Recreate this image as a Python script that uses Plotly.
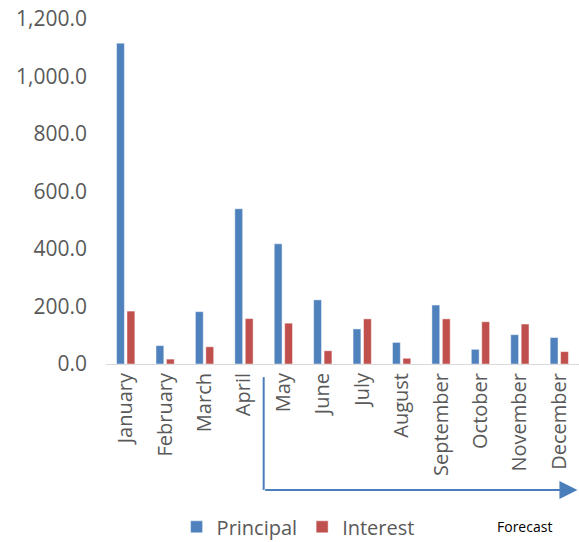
import plotly.graph_objects as go

months = ["January", "February", "March", "April", "May", "June", "July",
          "August", "September", "October", "November", "December"]
principal = [1116, 64, 182, 540, 418, 223, 122, 75, 205, 51, 102, 92]
interest = [184, 17, 60, 158, 142, 46, 157, 20, 157, 147, 139, 43]

FONT = "Open Sans"
GREY = "#595959"
ARROW = "#4a7ebb"

fig = go.Figure()
fig.add_trace(go.Bar(name="Principal", x=months, y=principal,
                     marker=dict(color="#4f81bd", line=dict(color="rgba(255,255,255,0.45)", width=1))))
fig.add_trace(go.Bar(name="Interest", x=months, y=interest,
                     marker=dict(color="#c0504d", line=dict(color="rgba(255,255,255,0.45)", width=1))))

fig.update_layout(
    width=579, height=542,
    margin=dict(l=106, r=0, t=19, b=178, autoexpand=False),
    plot_bgcolor="white", paper_bgcolor="white",
    barmode="group", bargap=0.47, bargroupgap=0.25,
    font=dict(family=FONT, color=GREY, size=20),
    showlegend=True,
    legend=dict(orientation="h", xref="container", yref="container",
                x=0.305, y=0.028, xanchor="left", yanchor="middle",
                font=dict(size=20, color=GREY), itemclick=False,
                tracegroupgap=0, itemwidth=30),
    xaxis=dict(tickangle=-90, showline=True, linecolor="#d9d9d9", linewidth=1,
               range=[-0.5, 11.5], autorange=False,
               ticks="", tickfont=dict(size=20, color=GREY), showgrid=False,
               automargin=False),
    yaxis=dict(range=[0, 1200], tickvals=[0, 200, 400, 600, 800, 1000, 1200],
               tickformat=",.1f", showgrid=False, zeroline=False, showline=False,
               ticks="", ticklabelstandoff=18, tickfont=dict(size=21, color=GREY),
               automargin=False),
)

fig.add_shape(type="line", xref="x", yref="paper", x0=3.5, x1=3.5,
              y0=-0.038, y1=-0.365, line=dict(color=ARROW, width=2))
fig.add_annotation(xref="x", yref="paper", x=11.46, y=-0.365,
                   axref="x", ayref="pixel", ax=3.5, ay=0,
                   showarrow=True, arrowhead=2, arrowsize=1.8, arrowwidth=2,
                   arrowcolor=ARROW, text="")
fig.add_annotation(xref="paper", yref="paper", x=(524 - 106) / 473, y=(364 - 526) / 345,
                   xanchor="center", yanchor="middle",
                   text="Forecast", showarrow=False,
                   font=dict(family=FONT, size=14, color="black"))

fig.write_html("out.html")
